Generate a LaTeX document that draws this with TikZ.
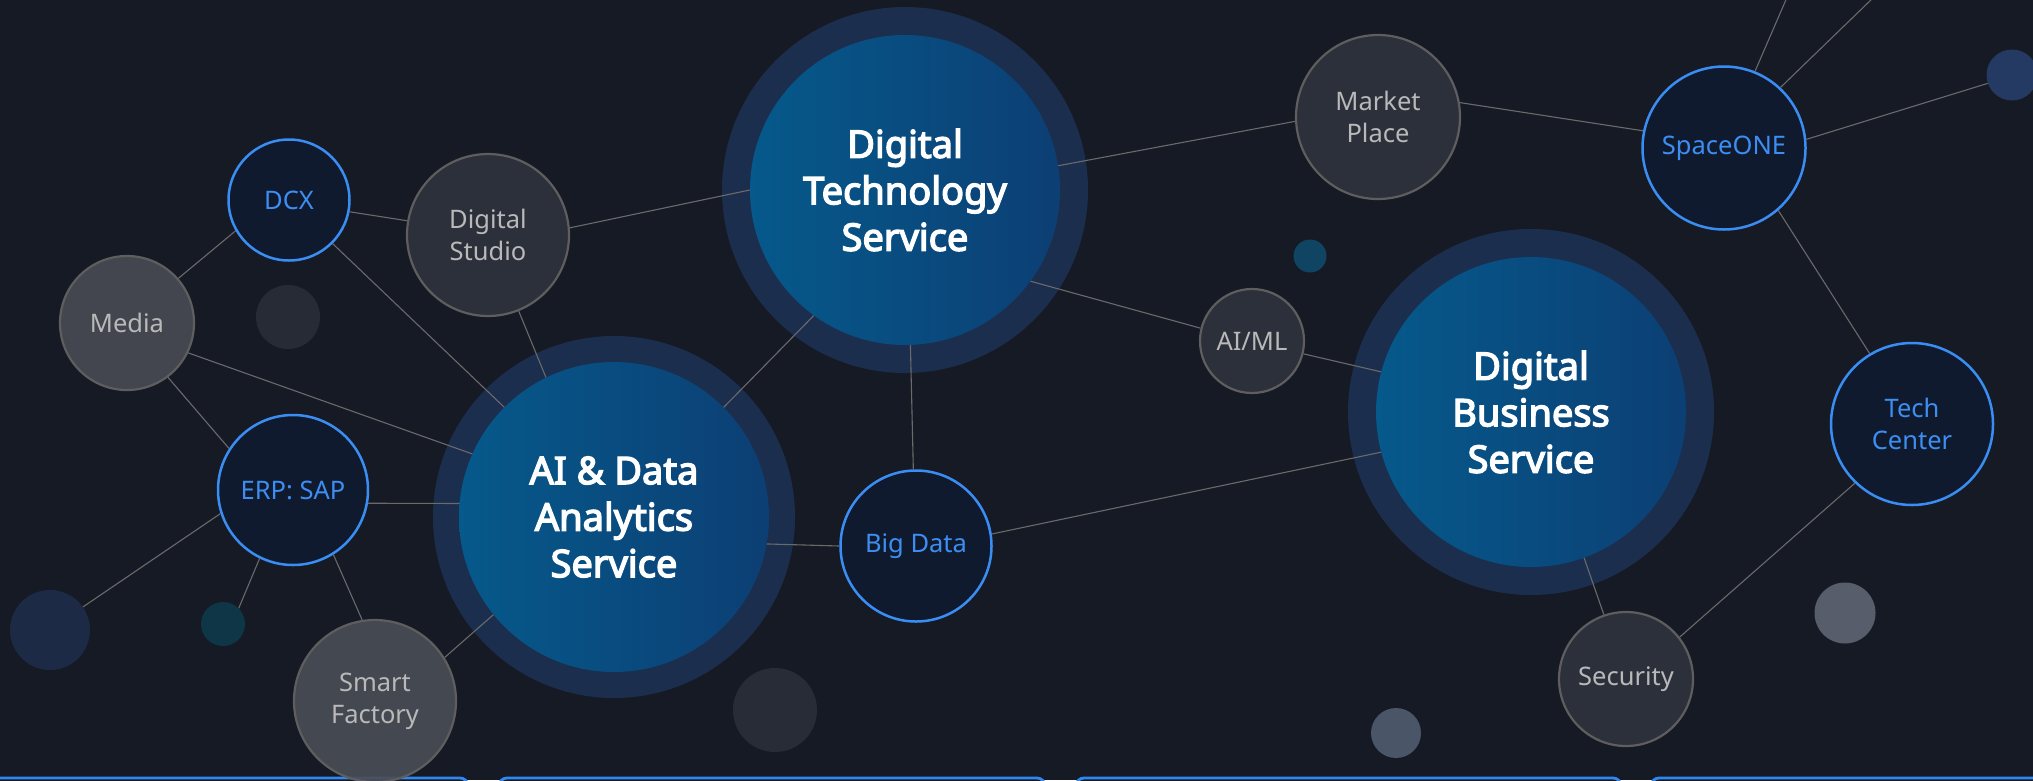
\documentclass[tikz,border=0pt]{standalone}
\usepackage{fontspec}
\setmainfont{Noto Sans}
\newfontfamily\bigfont{Noto Sans}[FakeBold=3.6]
\definecolor{bg}{HTML}{151A25}
\definecolor{grayfill}{HTML}{2C303B}
\definecolor{grayline}{HTML}{5E5E5E}
\definecolor{medfill}{HTML}{43464F}
\definecolor{smartfill}{HTML}{4A4D56}
\definecolor{graytext}{HTML}{B9B9B9}
\definecolor{bluefill}{HTML}{101A2E}
\definecolor{blueline}{HTML}{3A8DF3}
\definecolor{bluetext}{HTML}{3D8EF2}
\definecolor{ringcol}{HTML}{1C2E4E}
\definecolor{bigL}{HTML}{06598B}
\definecolor{bigR}{HTML}{0C3F74}
\definecolor{conncol}{HTML}{6A6A6A}
\definecolor{boxcol}{HTML}{2F88F2}
\definecolor{dA}{HTML}{262B36}
\definecolor{dB}{HTML}{1C2A45}
\definecolor{dC}{HTML}{0E3647}
\definecolor{dD}{HTML}{272C37}
\definecolor{dE}{HTML}{0F4562}
\definecolor{dF}{HTML}{585D6B}
\definecolor{dG}{HTML}{4A5567}
\definecolor{dH}{HTML}{243A62}
\begin{document}
\begin{tikzpicture}[x=1pt,y=-1pt,
  smallfont/.style={font=\fontsize{25.5}{32}\selectfont},
  graynode/.style={circle,inner sep=0pt,fill=grayfill,draw=grayline,line width=2.2pt,text=graytext,align=center,smallfont},
  mednode/.style={graynode,fill=medfill},
  bluenode/.style={circle,inner sep=0pt,fill=bluefill,draw=blueline,line width=2.5pt,text=bluetext,align=center,smallfont},
  ringnode/.style={circle,inner sep=0pt,fill=ringcol},
  bignode/.style={circle,inner sep=0pt,left color=bigL,right color=bigR,text=white,align=center,
     font=\bigfont\bfseries\fontsize{38}{46.5}\selectfont,minimum size=310pt},
  decor/.style={circle,inner sep=0pt,fill=#1},
  conn/.style={draw=conncol,line width=1.1pt},
  boxline/.style={draw=boxcol,line width=2.8pt,fill=bg,rounded corners=8pt}
]
\useasboundingbox (0,0) rectangle (2033,780);
\fill[bg] (0,0) rectangle (2033,780);

% bottom boxes
\draw[boxline] (-80,778) rectangle (468,900);
\draw[boxline] (499,778) rectangle (1045,900);
\draw[boxline] (1076,778) rectangle (1621,900);
\draw[boxline] (1651,778) rectangle (2120,900);

% outer rings
\node[ringnode,minimum size=366pt] (dtsring) at (905,190) {};
\node[ringnode,minimum size=362pt] (airing) at (614,517) {};
\node[ringnode,minimum size=366pt] (dbsring) at (1531,412) {};

% big nodes
\node[bignode] (dts) at (905,190) {Digital\\Technology\\Service};
\node[bignode] (ai) at (614,517) {AI \& Data\\Analytics\\Service};
\node[bignode] (dbs) at (1531,412) {Digital\\Business\\Service};

% decorative circles
\node[decor=dA,minimum size=64pt] (d1) at (288,317) {};
\node[decor=dB,minimum size=80pt] (d2) at (50,630) {};
\node[decor=dC,minimum size=44pt] (d3) at (223,624) {};
\node[decor=dD,minimum size=84pt] (d4) at (775,710) {};
\node[decor=dE,minimum size=33pt] (d5) at (1310,256) {};
\node[decor=dF,minimum size=61pt] (d6) at (1845,613) {};
\node[decor=dG,minimum size=50pt] (d7) at (1396,733) {};
\node[decor=dH,minimum size=51pt] (d8) at (2012,75) {};

% small nodes
\node[bluenode,minimum size=121pt] (dcx) at (289,200) {DCX};
\node[graynode,minimum size=162pt] (studio) at (488,235) {Digital\\Studio};
\node[mednode,minimum size=134pt] (media) at (127,323) {Media};
\node[bluenode,minimum size=150pt] (erp) at (293,490) {ERP: SAP};
\node[mednode,fill=smartfill,fill opacity=0.9,text opacity=1,minimum size=162pt] (smart) at (375,701) {Smart\\Factory};
\node[bluenode,minimum size=151pt] (bigdata) at (916,546) {Big Data};
\node[graynode,minimum size=164pt] (market) at (1378,117) {Market\\Place};
\node[graynode,minimum size=104pt] (aiml) at (1252,341) {AI/ML};
\node[bluenode,minimum size=163pt] (space) at (1724,148) {SpaceONE};
\node[bluenode,minimum size=162pt] (tech) at (1912,424) {Tech\\Center};
\node[graynode,minimum size=134pt] (security) at (1626,679) {Security};

\coordinate (t1) at (1788,-5);
\coordinate (t2) at (1876,-5);

% connectors
\draw[conn] (dcx.210.6) -- (media.41.1);
\draw[conn] (dcx.349.2) -- (studio.170.2);
\draw[conn] (dcx.315) -- (ai.135.9);
\draw[conn] (media.334.9) -- (ai.156.9);
\draw[conn] (media.307.1) -- (erp.147.1);
\draw[conn] (studio.5.7) -- (dts.180.6);
\draw[conn] (studio.292.3) -- (ai.116.7);
\draw[conn] (erp.350) -- (ai.175.9);
\draw[conn] (erp.198.4) -- (d2.35.6);
\draw[conn] (erp.244.4) -- (d3.45.9);
\draw[conn] (erp.302) -- (smart.99.6);
\draw[conn] (smart.32.5) -- (ai.219.4);
\draw[conn] (ai.45.5) -- (dts.234.7);
\draw[conn] (ai.350.4) -- (bigdata.180);
\draw[conn] (dts.272.7) -- (bigdata.92);
\draw[conn] (dts.9.55) -- (market.183.9);
\draw[conn] (dts.324.7) -- (aiml.166.2);
\draw[conn] (aiml.346) -- (dbs.165.3);
\draw[conn] (bigdata.9) -- (dbs.195.8);
\draw[conn] (market.10.5) -- (space.168.1);
\draw[conn] (space.68.5) -- (t1);
\draw[conn] (space.47.4) -- (t2);
\draw[conn] (space.6.9) -- (d8.199.8);
\draw[conn] (space.311.6) -- (tech.121.7);
\draw[conn] (tech.226) -- (security.38.2);
\draw[conn] (dbs.290.2) -- (security.109.2);
\end{tikzpicture}
\end{document}
